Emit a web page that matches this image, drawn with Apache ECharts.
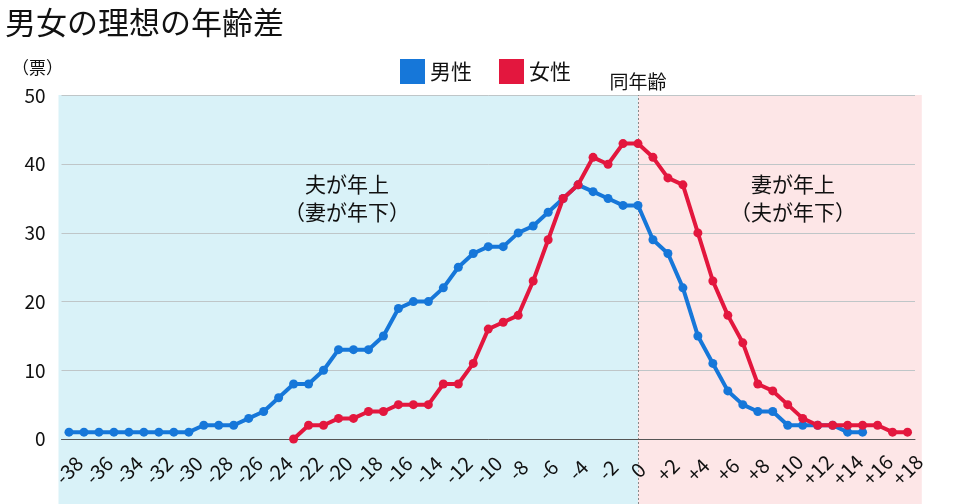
<!DOCTYPE html>
<html>

<head>
  <meta charset="utf-8" />
  <title>男女の理想の年齢差</title>
  <script src="https://cdn.jsdelivr.net/npm/echarts@6/dist/echarts.min.js"></script>
  <style>
    body { margin: 0; background: #fff; }
  </style>
</head>

<body>
  <div id="main" style="width: 960px;height:504px;"></div>
  <script type="text/javascript">
    // 年齢差 (マイナス = 夫が年上)
    var ageDiff = ['-38', '-37', '-36', '-35', '-34', '-33', '-32', '-31', '-30', '-29',
      '-28', '-27', '-26', '-25', '-24', '-23', '-22', '-21', '-20', '-19',
      '-18', '-17', '-16', '-15', '-14', '-13', '-12', '-11', '-10', '-9',
      '-8', '-7', '-6', '-5', '-4', '-3', '-2', '-1', '0', '+1',
      '+2', '+3', '+4', '+5', '+6', '+7', '+8', '+9', '+10', '+11',
      '+12', '+13', '+14', '+15', '+16', '+17', '+18'];

    var maleVotes = [1, 1, 1, 1, 1, 1, 1, 1, 1, 2,
      2, 2, 3, 4, 6, 8, 8, 10, 13, 13,
      13, 15, 19, 20, 20, 22, 25, 27, 28, 28,
      30, 31, 33, 35, 37, 36, 35, 34, 34, 29,
      27, 22, 15, 11, 7, 5, 4, 4, 2, 2,
      2, 2, 1, 1, null, null, null];

    var femaleVotes = [null, null, null, null, null, null, null, null, null, null,
      null, null, null, null, null, 0, 2, 2, 3, 3,
      4, 4, 5, 5, 5, 8, 8, 11, 16, 17,
      18, 23, 29, 35, 37, 41, 40, 43, 43, 41,
      38, 37, 30, 23, 18, 14, 8, 7, 5, 3,
      2, 2, 2, 2, 2, 1, 1];

    var yTicks = [0, 10, 20, 30, 40, 50];

    // 背景の左右の区切り（年齢差 0 が境目）
    var bandLeft = -38.7, bandMid = 0, bandRight = 18.95;

    var blue = '#1677d9';
    var red = '#e3173e';
    var font = '"Noto Sans CJK JP", "Noto Sans", sans-serif';

    var chart = echarts.init(document.getElementById('main'));
    var option = {
      backgroundColor: '#fff',
      textStyle: { fontFamily: font },
      title: {
        text: '男女の理想の年齢差',
        left: 0,
        top: 2,
        textStyle: { fontSize: 31, fontWeight: 'normal', color: '#111', fontFamily: font }
      },
      legend: {
        data: ['男性', '女性'],
        left: 395,
        top: 54,
        icon: 'rect',
        itemWidth: 25,
        itemHeight: 25,
        itemGap: 27,
        textStyle: { fontSize: 21, color: '#111', fontFamily: font }
      },
      grid: [
        { left: 61.5, right: 45, top: 95.5, bottom: 65 },
        { left: 58.5, right: 38.2, top: 95, bottom: 0 }
      ],
      xAxis: [
        {
          type: 'category',
          gridIndex: 0,
          data: ageDiff,
          boundaryGap: true,
          z: 2,
          axisLine: { lineStyle: { color: '#555', width: 1 } },
          axisTick: { show: false },
          axisLabel: {
            interval: 1,
            rotate: 45,
            align: 'center',
            verticalAlign: 'middle',
            margin: 31,
            fontSize: 20,
            color: '#111',
            fontFamily: font
          }
        },
        {
          type: 'value',
          gridIndex: 1,
          min: bandLeft,
          max: bandRight,
          show: false
        }
      ],
      yAxis: [
        {
          type: 'value',
          gridIndex: 0,
          min: yTicks[0],
          max: yTicks[yTicks.length - 1],
          interval: 10,
          z: 2,
          axisLine: { show: false },
          axisTick: { show: false },
          axisLabel: { fontSize: 19, color: '#111', margin: 16, fontFamily: font },
          splitLine: { lineStyle: { color: '#bfc6c8', width: 1 } }
        },
        {
          type: 'value',
          gridIndex: 1,
          min: 0,
          max: 1,
          show: false
        }
      ],
      graphic: [
        {
          type: 'text', left: 12, top: 59,
          style: { text: '（票）', fontSize: 17, fill: '#111', fontFamily: font }
        },
        {
          type: 'text', x: 347, y: 198, z: 50,
          style: {
            text: '夫が年上\n（妻が年下）', fontSize: 21, lineHeight: 28, fill: '#111',
            align: 'center', verticalAlign: 'middle', fontFamily: font
          }
        },
        {
          type: 'text', x: 793, y: 198, z: 50,
          style: {
            text: '妻が年上\n（夫が年下）', fontSize: 21, lineHeight: 28, fill: '#111',
            align: 'center', verticalAlign: 'middle', fontFamily: font
          }
        }
      ],
      series: [
        {
          name: 'background',
          type: 'line',
          xAxisIndex: 1,
          yAxisIndex: 1,
          data: [],
          silent: true,
          z: -10,
          markArea: {
            silent: true,
            z: -10,
            data: [
              [{ xAxis: bandLeft, itemStyle: { color: '#d9f2f8' } }, { xAxis: bandMid }],
              [{ xAxis: bandMid, itemStyle: { color: '#fde6e7' } }, { xAxis: bandRight }]
            ]
          },
          markLine: {
            silent: true,
            z: 2,
            symbol: 'none',
            lineStyle: { color: '#8a8a8a', type: [2, 2], width: 1 },
            label: {
              position: 'end',
              formatter: '同年齢',
              fontSize: 19,
              color: '#111',
              distance: 4,
              fontFamily: font
            },
            data: [{ xAxis: bandMid }]
          }
        },
        {
          name: '男性',
          type: 'line',
          data: maleVotes,
          color: blue,
          symbol: 'circle',
          symbolSize: 9,
          lineStyle: { width: 4 },
          z: 3
        },
        {
          name: '女性',
          type: 'line',
          data: femaleVotes,
          color: red,
          symbol: 'circle',
          symbolSize: 9,
          lineStyle: { width: 4 },
          z: 4
        }
      ]
    };
    chart.setOption(option);

    window.onresize = function () {
      chart.resize();
    };
  </script>
</body>

</html>
